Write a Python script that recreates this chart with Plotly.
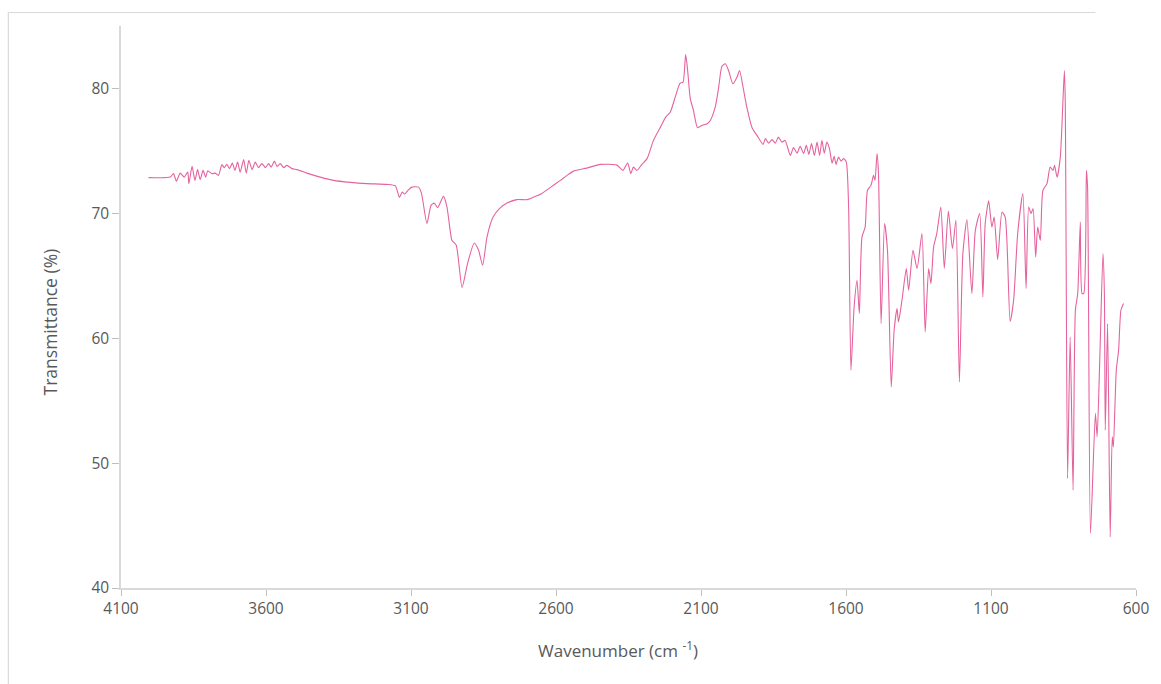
import plotly.graph_objects as go

# FTIR spectrum: wavenumber (cm^-1) and transmittance (%)
wavenumber = [
    4005, 3930, 3919, 3909, 3896, 3882, 3870, 3866, 3855, 3845, 3836, 3827, 3817, 3808, 3801,
    3786, 3775, 3764, 3752, 3744, 3735, 3726, 3716, 3707, 3698, 3689, 3677, 3668, 3659, 3648,
    3637, 3626, 3614, 3602, 3591, 3582, 3571, 3562, 3551, 3539, 3528, 3510, 3493, 3459, 3413,
    3367, 3309, 3252, 3183, 3154, 3140, 3130, 3122, 3108, 3097, 3074, 3064, 3045, 3031, 3020,
    3008, 2988, 2976, 2965, 2959, 2944, 2924, 2905, 2882, 2867, 2853, 2838, 2817, 2795, 2769,
    2735, 2700, 2677, 2654, 2620, 2585, 2562, 2540, 2494, 2447, 2390, 2369, 2353, 2342, 2333,
    2321, 2304, 2286, 2264, 2241, 2220, 2206, 2189, 2172, 2162, 2153, 2146, 2137, 2126, 2112,
    2097, 2079, 2068, 2051, 2039, 2028, 2016, 2005, 1990, 1976, 1967, 1955, 1942, 1924, 1907,
    1886, 1878, 1867, 1855, 1844, 1833, 1821, 1810, 1792, 1781, 1769, 1758, 1746, 1737, 1728,
    1719, 1709, 1700, 1691, 1683, 1675, 1666, 1657, 1648, 1641, 1634, 1626, 1617, 1608, 1599,
    1591, 1583, 1572, 1562, 1554, 1545, 1534, 1526, 1514, 1505, 1500, 1493, 1488, 1479, 1467,
    1457, 1444, 1434, 1424, 1419, 1407, 1392, 1384, 1369, 1355, 1338, 1327, 1315, 1307, 1298,
    1287, 1273, 1261, 1247, 1233, 1221, 1209, 1197, 1183, 1166, 1154, 1139, 1128, 1120, 1108,
    1097, 1089, 1077, 1062, 1051, 1034, 1022, 1008, 990, 979, 970, 962, 955, 946, 939,
    930, 921, 907, 896, 886, 881, 872, 861, 847, 844, 836, 827, 817, 809, 801,
    792, 786, 780, 771, 767, 757, 740, 734, 725, 714, 709, 706, 698, 689, 682,
    678, 668, 660, 652, 643,
]

transmittance = [
    72.86, 72.90, 73.18, 72.58, 73.22, 72.90, 73.30, 72.37, 73.76, 72.64, 73.50, 72.70, 73.44, 72.90, 73.40,
    73.18, 73.22, 73.04, 73.90, 73.66, 73.92, 73.58, 74.02, 73.44, 74.10, 73.30, 74.30, 73.22, 74.24, 73.50,
    74.10, 73.66, 73.98, 73.66, 73.98, 73.70, 74.18, 73.76, 73.98, 73.66, 73.84, 73.58, 73.50, 73.22, 72.90,
    72.64, 72.48, 72.38, 72.32, 72.20, 71.28, 71.70, 71.55, 71.90, 72.10, 72.10, 71.62, 69.18, 70.64, 70.82,
    70.46, 71.36, 70.50, 68.64, 67.84, 67.44, 64.06, 65.98, 67.62, 67.04, 65.84, 68.10, 69.70, 70.38, 70.82,
    71.10, 71.10, 71.30, 71.52, 72.06, 72.64, 73.04, 73.38, 73.62, 73.92, 73.86, 73.44, 74.02, 73.18, 73.70,
    73.44, 73.92, 74.38, 75.84, 76.86, 77.76, 78.10, 79.30, 80.42, 80.50, 82.72, 81.44, 79.18, 78.24, 76.86,
    77.04, 77.18, 77.44, 78.50, 80.10, 81.76, 81.98, 81.44, 80.38, 80.90, 81.44, 80.10, 78.50, 76.86, 76.24,
    75.52, 75.98, 75.62, 75.90, 75.62, 76.10, 75.70, 75.84, 74.64, 75.26, 74.82, 75.36, 74.78, 75.44, 74.72,
    75.58, 74.64, 75.70, 74.64, 75.84, 74.82, 75.70, 75.18, 74.02, 74.56, 73.92, 74.50, 74.18, 74.38, 74.10,
    70.50, 57.44, 62.50, 64.64, 61.98, 68.10, 68.90, 71.84, 72.24, 73.04, 72.64, 74.78, 73.18, 61.18, 69.18,
    67.04, 56.10, 60.64, 62.38, 61.30, 63.04, 65.58, 63.84, 67.04, 65.58, 68.38, 60.50, 65.58, 64.38, 67.30,
    68.38, 70.50, 65.58, 70.18, 67.18, 69.44, 56.50, 66.78, 69.50, 63.58, 68.64, 69.98, 63.30, 69.18, 71.00,
    68.90, 69.70, 66.30, 70.10, 69.70, 61.35, 63.04, 68.38, 71.58, 63.98, 70.50, 69.98, 70.38, 66.50, 68.90,
    67.84, 71.84, 72.38, 73.70, 73.44, 73.84, 72.90, 74.50, 81.44, 79.04, 48.78, 60.10, 47.84, 62.24, 63.58,
    69.30, 63.58, 63.60, 73.44, 72.10, 44.38, 53.98, 52.10, 58.24, 66.78, 63.58, 52.64, 61.18, 44.10, 52.10,
    51.30, 57.44, 59.04, 62.24, 62.78,
]

x_ticks = [4100, 3600, 3100, 2600, 2100, 1600, 1100, 600]
y_ticks = [40, 50, 60, 70, 80]

GRAY_TEXT = "#595959"
AXIS_GRAY = "#d9d9d9"
FONT = "Open Sans, DejaVu Sans, sans-serif"

fig = go.Figure()
fig.add_trace(go.Scatter(
    x=wavenumber,
    y=transmittance,
    mode="lines",
    line=dict(color="#e6629e", width=1.1, shape="spline", smoothing=0.6),
    hoverinfo="x+y",
    showlegend=False,
))

fig.update_layout(
    width=1161,
    height=684,
    autosize=False,
    margin=dict(l=120.7, r=25.3, t=25.5, b=96),
    paper_bgcolor="white",
    plot_bgcolor="white",
    font=dict(family=FONT, color=GRAY_TEXT, size=15),
    showlegend=False,
)

fig.update_xaxes(
    range=[4100, 600],
    tickmode="array",
    tickvals=x_ticks,
    ticktext=[str(v) for v in x_ticks],
    ticks="outside",
    ticklen=6,
    tickwidth=1,
    tickcolor="#bfbfbf",
    showline=True,
    linecolor=AXIS_GRAY,
    linewidth=1.5,
    showgrid=False,
    zeroline=False,
    tickfont=dict(size=15.5, color=GRAY_TEXT),
)

fig.update_yaxes(
    range=[40, 85],
    tickmode="array",
    tickvals=y_ticks,
    ticktext=[str(v) for v in y_ticks],
    ticks="outside",
    ticklen=7,
    tickwidth=1,
    tickcolor="#bfbfbf",
    showline=True,
    linecolor=AXIS_GRAY,
    linewidth=1.5,
    showgrid=False,
    zeroline=False,
    tickfont=dict(size=15.5, color=GRAY_TEXT),
)

# Axis titles
fig.add_annotation(
    text="Wavenumber (cm <sup>-1</sup>)",
    xref="paper", yref="paper", x=0.49, y=-0.110,
    xanchor="center", yanchor="middle", showarrow=False,
    font=dict(size=17, color=GRAY_TEXT, family=FONT),
)
fig.add_annotation(
    text="Transmittance (%)",
    xref="paper", yref="paper", x=-0.0697, y=0.473,
    xanchor="center", yanchor="middle", showarrow=False, textangle=-90,
    font=dict(size=17.5, color=GRAY_TEXT, family=FONT),
)

# Light frame around the chart area
fig.add_shape(type="line", xref="paper", yref="paper",
              x0=-0.111, x1=0.96, y0=1.024, y1=1.024,
              line=dict(color=AXIS_GRAY, width=1.2))
fig.add_shape(type="line", xref="paper", yref="paper",
              x0=-0.111, x1=-0.111, y0=1.024, y1=-0.171,
              line=dict(color=AXIS_GRAY, width=1.2))

fig.write_html("out.html")
